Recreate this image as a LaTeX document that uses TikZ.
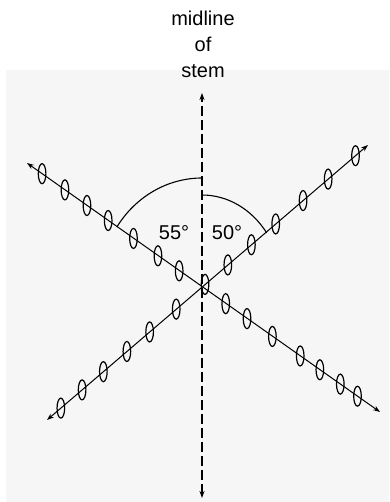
\documentclass[tikz,border=0pt]{standalone}
\usepackage{fontspec}
\setmainfont{Liberation Sans}
\usetikzlibrary{arrows.meta,calc}
\definecolor{scan}{RGB}{246,246,246}

\begin{document}
\begin{tikzpicture}[
  x=1pt, y=-1pt,
  axis/.style={line width=1pt, {Stealth[length=7pt,width=5pt]}-{Stealth[length=7pt,width=5pt]}},
  midline/.style={axis, line width=1.2pt, dash pattern=on 10pt off 4pt},
  bead/.style={line width=1.2pt},
  anglearc/.style={line width=1.1pt},
  caption/.style={font=\fontsize{20}{26}\selectfont, align=center, inner sep=0pt},
  deg/.style={font=\fontsize{20}{24}\selectfont, inner sep=0pt}]

\useasboundingbox (0,0) rectangle (389,502);
\fill[scan] (6,70) rectangle (389,502);

% ---------- points ----------
\coordinate (cross)   at (202,287);
\coordinate (stemTop) at (202,93);
\coordinate (stemBot) at (202,498);
\coordinate (nwEnd)   at (27,163);
\coordinate (seEnd)   at (380,412);
\coordinate (swEnd)   at (47,420);
\coordinate (neEnd)   at (368,145);

% ---------- stem and the two rows ----------
\draw[midline] (stemBot) -- (stemTop);
\draw[axis] (nwEnd) -- (seEnd);
\draw[axis] (swEnd) -- (neEnd);

\foreach \d in {28,54,84,115,141,168,196}
  \draw[bead] ($(cross)!\d pt!(nwEnd)$) ellipse[x radius=3.8pt, y radius=10pt];
\foreach \d in {29,55,86,120,144,169,190}
  \draw[bead] ($(cross)!\d pt!(seEnd)$) ellipse[x radius=3.8pt, y radius=10pt];
\foreach \d in {4,34,65,97,133,166,202}
  \draw[bead] ($(cross)!\d pt!(neEnd)$) ellipse[x radius=3.8pt, y radius=10pt];
\foreach \d in {34,69,99,130,158,186}
  \draw[bead] ($(cross)!\d pt!(swEnd)$) ellipse[x radius=3.8pt, y radius=10pt];

% ---------- angles ----------
\draw[anglearc] ($(cross)+(0,-109)$)
  arc[start angle=-90, end angle=-146.6, x radius=102, y radius=109];
\draw[anglearc] ($(cross)+(0,-92)$)
  arc[start angle=-90, end angle=-36, x radius=80, y radius=92];
\node[deg] (left55)  at (174,233) {55°};
\node[deg] (right50) at (227,233) {50°};

% ---------- label ----------
\node[caption] (stemlabel) at (203,44) {midline\\of\\stem};
\end{tikzpicture}
\end{document}
